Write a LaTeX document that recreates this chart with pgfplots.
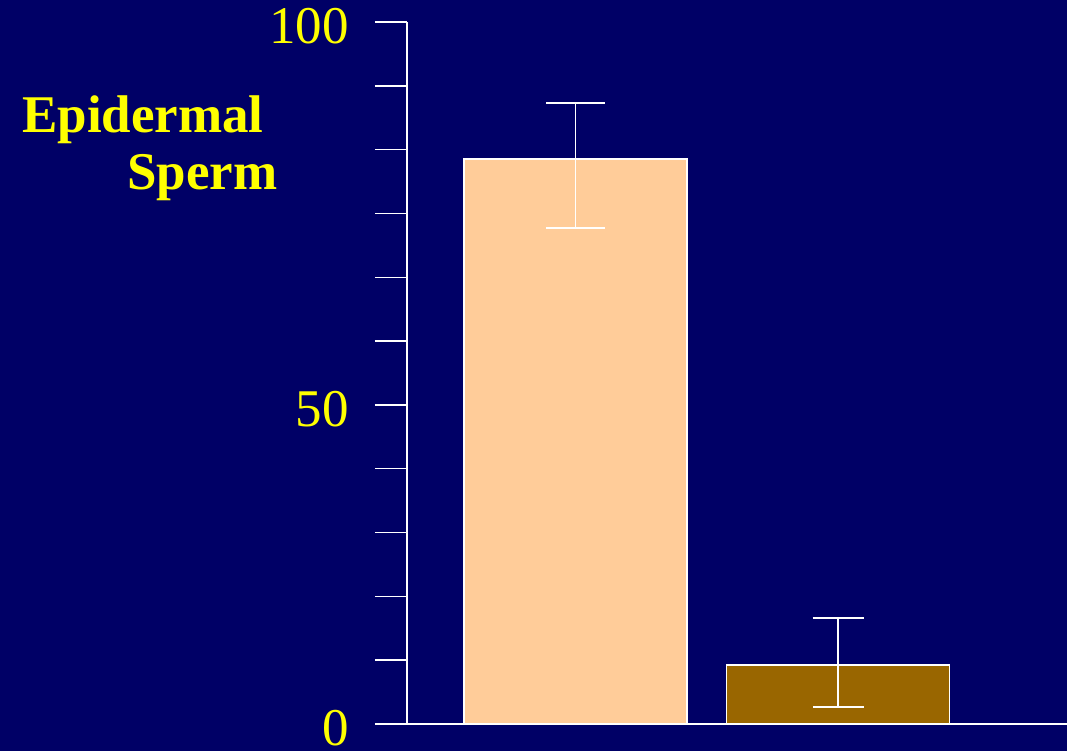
\documentclass[border=0pt]{standalone}
\usepackage{pgfplots}
\pgfplotsset{compat=1.18}
\usepackage{fontspec}
\setmainfont{Liberation Serif}
\definecolor{bg}{HTML}{000066}
\definecolor{peach}{HTML}{FFCC99}
\definecolor{brownbar}{HTML}{996600}
\definecolor{yel}{HTML}{FFFF00}
\begin{document}
\begin{tikzpicture}
\fill[bg] (0,0) rectangle (1067pt,751pt);
\useasboundingbox (0,0) rectangle (1067pt,751pt);
\node[anchor=base west, inner sep=0, text=yel, font=\fontsize{53}{60}\selectfont\bfseries] at (22pt,618pt) {Epidermal};
\node[anchor=base west, inner sep=0, text=yel, font=\fontsize{53}{60}\selectfont\bfseries] at (127pt,561pt) {Sperm};
\begin{axis}[
  at={(407pt,27pt)}, anchor=south west,
  scale only axis, width=660pt, height=702pt,
  xmin=0.358, xmax=2.872, ymin=0, ymax=110,
  axis lines=left,
  axis line style={-, white, line width=1.5pt},
  xtick=\empty,
  ytick={0,10,20,30,40,50,60,70,80,90,100,110},
  yticklabels={0,,,,,50,,,,,,100},
  major tick length=32pt,
  tick align=outside,
  tick style={white, line width=1.5pt},
  yticklabel style={text=yel, font=\fontsize{53}{60}\selectfont, inner sep=0pt, xshift=-26pt, yshift=-4pt},
  /pgf/number format/assume math mode=true,
  clip=false,
  ybar, bar width=0.85, bar shift=0pt,
]
\addplot[fill=peach, draw=white, line width=1.5pt,
  error bars/.cd, y dir=both, y explicit,
  error bar style={white, line width=1.5pt},
  error mark options={rotate=90, mark size=29.5pt, white, line width=1.5pt}]
  coordinates {(1,88.53) += (0,8.77) -= (0,10.83)};
\addplot[fill=brownbar, draw=white, line width=1.5pt,
  error bars/.cd, y dir=both, y explicit,
  error bar style={white, line width=1.5pt},
  error mark options={rotate=90, mark size=25.5pt, white, line width=1.5pt}]
  coordinates {(2,9.24) += (0,7.36) -= (0,6.58)};
\end{axis}
\end{tikzpicture}
\end{document}
